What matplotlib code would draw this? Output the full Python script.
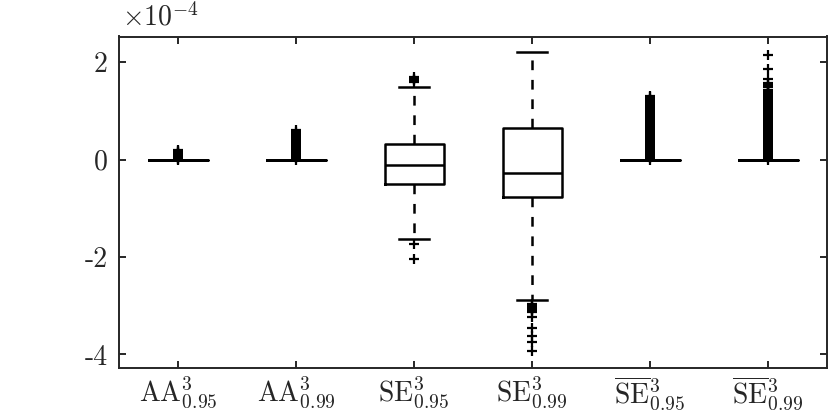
import matplotlib
matplotlib.use('Agg')
import matplotlib.pyplot as plt

plt.rcParams['mathtext.fontset'] = 'cm'
plt.rcParams['font.family'] = 'cmr10'
plt.rcParams['axes.formatter.use_mathtext'] = True
plt.rcParams['lines.scale_dashes'] = False

# ---- data (units of 1e-4) ----
labels = [r'$\mathrm{AA}^3_{0.95}$', r'$\mathrm{AA}^3_{0.99}$',
          r'$\mathrm{SE}^3_{0.95}$', r'$\mathrm{SE}^3_{0.99}$',
          r'$\overline{\mathrm{SE}}^3_{0.95}$', r'$\overline{\mathrm{SE}}^3_{0.99}$']
medians = [0.0, 0.0, -0.10, -0.27, 0.0, 0.0]
q1 = [0.0, 0.0, -0.49, -0.77, 0.0, 0.0]
q3 = [0.0, 0.0, 0.33, 0.66, 0.0, 0.0]
whislo = [0.0, 0.0, -1.62, -2.89, 0.0, 0.0]
whishi = [0.0, 0.0, 1.49, 2.22, 0.0, 0.0]

fliers_aa95 = [0.00, 0.02, 0.04, 0.06, 0.08, 0.10, 0.12, 0.14, 0.16, 0.18, 0.20]
fliers_aa99 = [0.00, 0.04, 0.08, 0.12, 0.16, 0.20, 0.24, 0.28, 0.32, 0.36,
               0.40, 0.44, 0.48, 0.52, 0.56, 0.60]
fliers_se95 = [1.60, 1.63, 1.66, 1.69, -1.74, -2.04]
fliers_se99 = [-2.97, -3.00, -3.03, -3.06, -3.09, -3.12, -3.24, -3.46,
               -3.63, -3.74, -3.94]
fliers_seb95 = [0.00, 0.04, 0.08, 0.12, 0.16, 0.20, 0.24, 0.28, 0.32, 0.36,
                0.40, 0.44, 0.48, 0.52, 0.56, 0.60, 0.64, 0.68, 0.72, 0.76,
                0.80, 0.84, 0.88, 0.92, 0.96, 1.00, 1.04, 1.08, 1.12, 1.16,
                1.20, 1.24, 1.28, 1.31]
fliers_seb99 = [0.00, 0.04, 0.08, 0.12, 0.16, 0.20, 0.24, 0.28, 0.32, 0.36,
                0.40, 0.44, 0.48, 0.52, 0.56, 0.60, 0.64, 0.68, 0.72, 0.76,
                0.80, 0.84, 0.88, 0.92, 0.96, 1.00, 1.04, 1.08, 1.12, 1.16,
                1.20, 1.24, 1.28, 1.32, 1.36, 1.40, 1.44, 1.50, 1.54, 1.58,
                1.66, 1.86, 2.16]
fliers = [fliers_aa95, fliers_aa99, fliers_se95, fliers_se99, fliers_seb95, fliers_seb99]

ytick_vals = [-4, -2, 0, 2]
ytick_labels = ['-4', '-2', '0', '2']

# ---- plot ----
fig = plt.figure(figsize=(8.30, 4.17), dpi=100)
ax = fig.add_axes([119/830, 1 - 367.5/417, (827 - 119)/830, (367.5 - 36.5)/417])

stats = []
for i in range(len(labels)):
    stats.append(dict(med=medians[i], q1=q1[i], q3=q3[i], whislo=whislo[i],
                      whishi=whishi[i], fliers=fliers[i], label=labels[i]))

lw = 1.8
ax.bxp(stats, positions=range(1, 7), widths=0.5, capwidths=0.25,
       showfliers=True,
       boxprops=dict(color='k', linewidth=lw),
       medianprops=dict(color='k', linewidth=lw),
       whiskerprops=dict(color='k', linewidth=lw, linestyle=(0, (7, 7))),
       capprops=dict(color='k', linewidth=lw),
       flierprops=dict(marker='+', markeredgecolor='k', markersize=6.5,
                       markeredgewidth=1.6, linestyle='none'))

ax.set_xlim(0.5, 6.5)
ax.set_ylim(-4.27, 2.53)
ax.set_yticks(ytick_vals)
ax.set_yticklabels(ytick_labels, fontsize=20)
ax.set_xticks(range(1, 7))
ax.set_xticklabels(labels, fontsize=20)

spine_c = '#262626'
for s in ax.spines.values():
    s.set_linewidth(1.4)
    s.set_color(spine_c)
ax.tick_params(direction='in', length=5, width=1.4, color=spine_c,
               top=True, right=True, labelcolor=spine_c)
ax.tick_params(axis='y', pad=8)
ax.tick_params(axis='x', pad=5)

fig.text(121.5/830, 1 - 26/417, r'$\times10^{-4}$', fontsize=20,
         ha='left', va='baseline', color=spine_c)

fig.savefig('out.png', dpi=100)
